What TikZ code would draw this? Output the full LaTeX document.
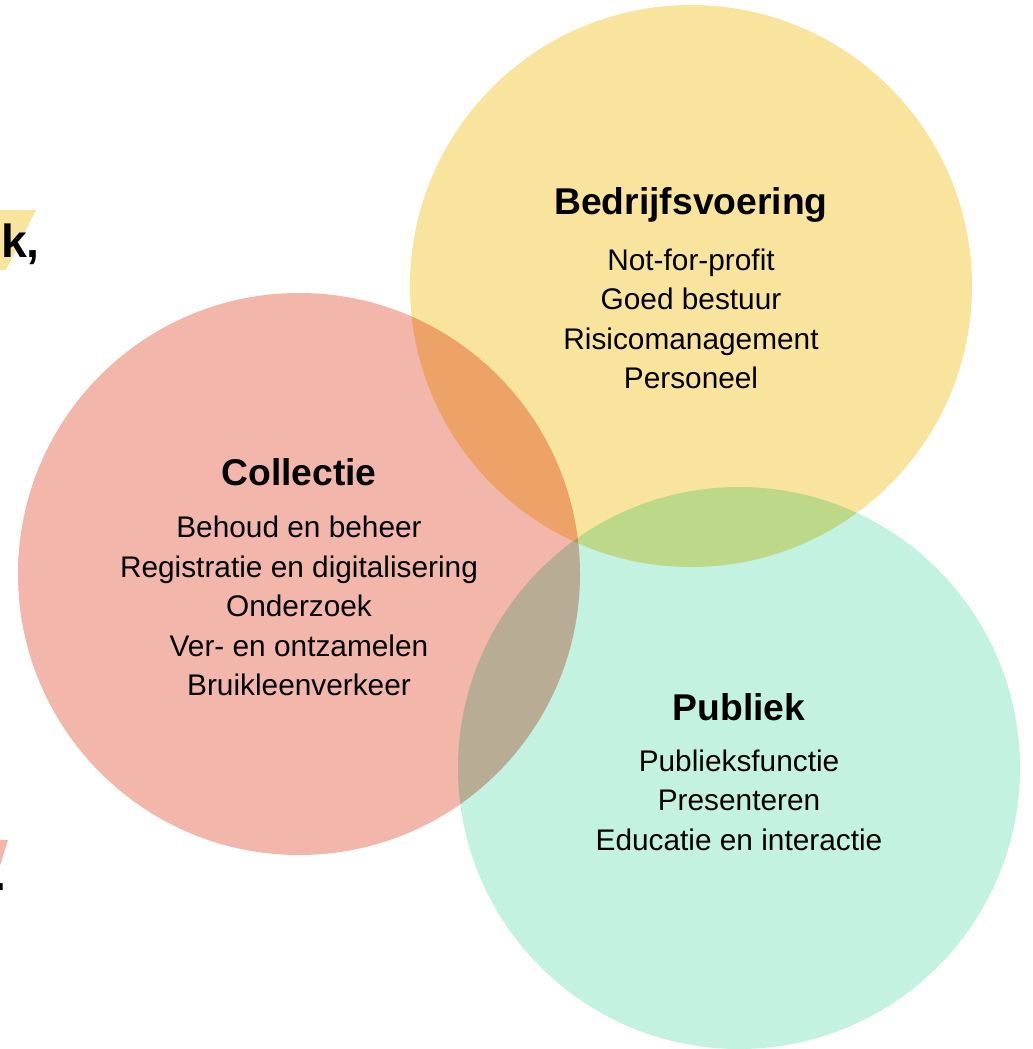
\documentclass[tikz,border=0pt]{standalone}
\usepackage{fontspec}
\setmainfont{Liberation Sans}
\usetikzlibrary{positioning}

\begin{document}
\begin{tikzpicture}[x=0.025cm, y=-0.025cm]
  \definecolor{bedrijfyellow}{HTML}{F9E49D}
  \definecolor{collectiepink}{HTML}{F3B6AA}
  \definecolor{publiekgreen}{HTML}{C3F2E0}
  \tikzset{
    theme/.style={fill=#1, draw=none, blend mode=multiply},
    title/.style={font=\fontsize{26.5}{30}\selectfont\bfseries, inner sep=0pt},
    items/.style={font=\fontsize{21.2}{28}\selectfont, align=center, inner sep=0pt}
  }
  \useasboundingbox (0,0) rectangle (1032,1049);
  \clip (0,0) rectangle (1032,1049);

  % cut-off words at the left edge
  \fill[bedrijfyellow] (-20,210) -- (36,210) -- (6,270) -- (-20,270) -- cycle;
  \node[font=\fontsize{33}{36}\selectfont\bfseries, anchor=base east, inner sep=0pt] (kcomma) at (40,258) {k,};
  \fill[collectiepink] (-10,840) -- (8,840) -- (-2,872) -- (-10,872) -- cycle;
  \node[font=\fontsize{33}{36}\selectfont\bfseries, anchor=base east, inner sep=0pt] (dot) at (7,890) {.};

  % the three circles
  \path[theme=collectiepink] (299,574) circle (281);
  \path[theme=bedrijfyellow] (691,286) circle (281);
  \path[theme=publiekgreen] (739,768) circle (281);

  % Bedrijfsvoering
  \node[title] (bedrijf) at (691,205) {Bedrijfsvoering};
  \node[items] (bedrijflist) at (691,319) {Not-for-profit\\Goed bestuur\\Risicomanagement\\Personeel};

  % Collectie
  \node[title] (collectie) at (299,472) {Collectie};
  \node[items] (collectielist) at (299,606) {Behoud en beheer\\Registratie en digitalisering\\Onderzoek\\Ver- en ontzamelen\\Bruikleenverkeer};

  % Publiek
  \node[title] (publiek) at (739,707) {Publiek};
  \node[items] (publieklist) at (739,800) {Publieksfunctie\\Presenteren\\Educatie en interactie};
\end{tikzpicture}
\end{document}
